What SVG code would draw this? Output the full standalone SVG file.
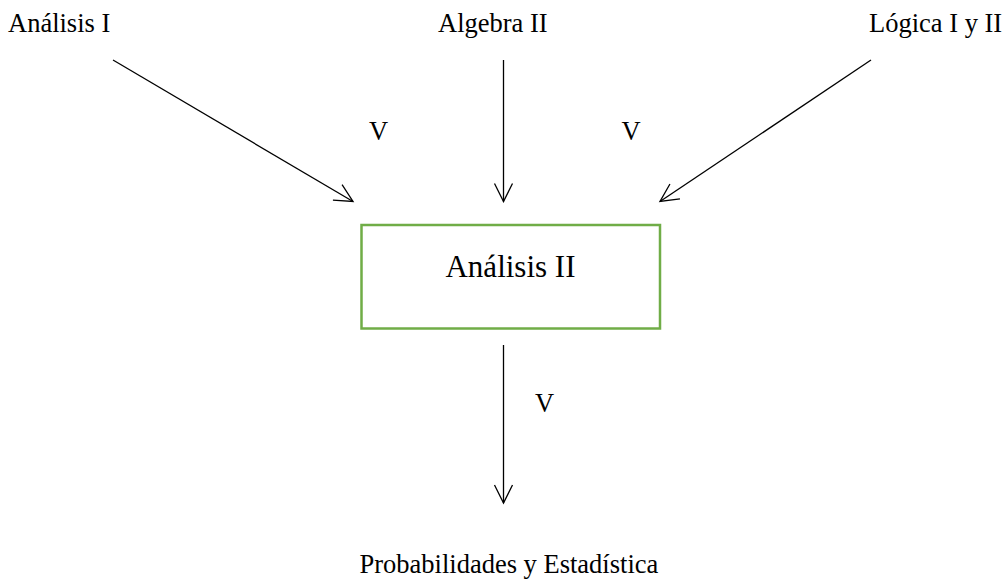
<svg xmlns="http://www.w3.org/2000/svg" width="1005" height="579" viewBox="0 0 1005 579">
<style>
text{font-family:"Liberation Serif","Times New Roman",serif;fill:#000}
.lbl{font-size:26.5px}
.big{font-size:31px}
.edge{stroke:#000;stroke-width:1.3;fill:none}
.box{fill:#fff;stroke:#70AD47;stroke-width:2.5}
</style>
<defs>
<marker id="arr" markerUnits="userSpaceOnUse" markerWidth="24" markerHeight="24" viewBox="-20 -12 24 24" refX="0" refY="0" orient="auto">
<path d="M-18,-9 L0,0 L-18,9" fill="none" stroke="#000" stroke-width="1.3"/>
</marker>
</defs>
<rect width="1005" height="579" fill="#fff"/>
<g id="connectors">
<line class="edge" x1="113" y1="60" x2="353" y2="201.5" marker-end="url(#arr)"/>
<line class="edge" x1="503.5" y1="60" x2="503.5" y2="201.5" marker-end="url(#arr)"/>
<line class="edge" x1="871" y1="60" x2="660" y2="201.5" marker-end="url(#arr)"/>
<line class="edge" x1="503.5" y1="345" x2="503.5" y2="503" marker-end="url(#arr)"/>
<text class="lbl" x="369" y="139.5">V</text>
<text class="lbl" x="621.5" y="139.5">V</text>
<text class="lbl" x="535" y="411.5">V</text>
</g>
<g id="analisis1"><text class="lbl" x="8" y="31.5">Análisis I</text></g>
<g id="algebra2"><text class="lbl" x="438" y="31.5">Algebra II</text></g>
<g id="logica"><text class="lbl" x="869" y="31.5">Lógica I y II</text></g>
<g id="analisis2">
<rect class="box" x="361.5" y="225" width="298.5" height="103.5"/>
<text class="big" x="510.5" y="276.5" text-anchor="middle">Análisis II</text>
</g>
<g id="probabilidades"><text class="lbl" x="359.5" y="572.5">Probabilidades y Estadística</text></g>
</svg>
